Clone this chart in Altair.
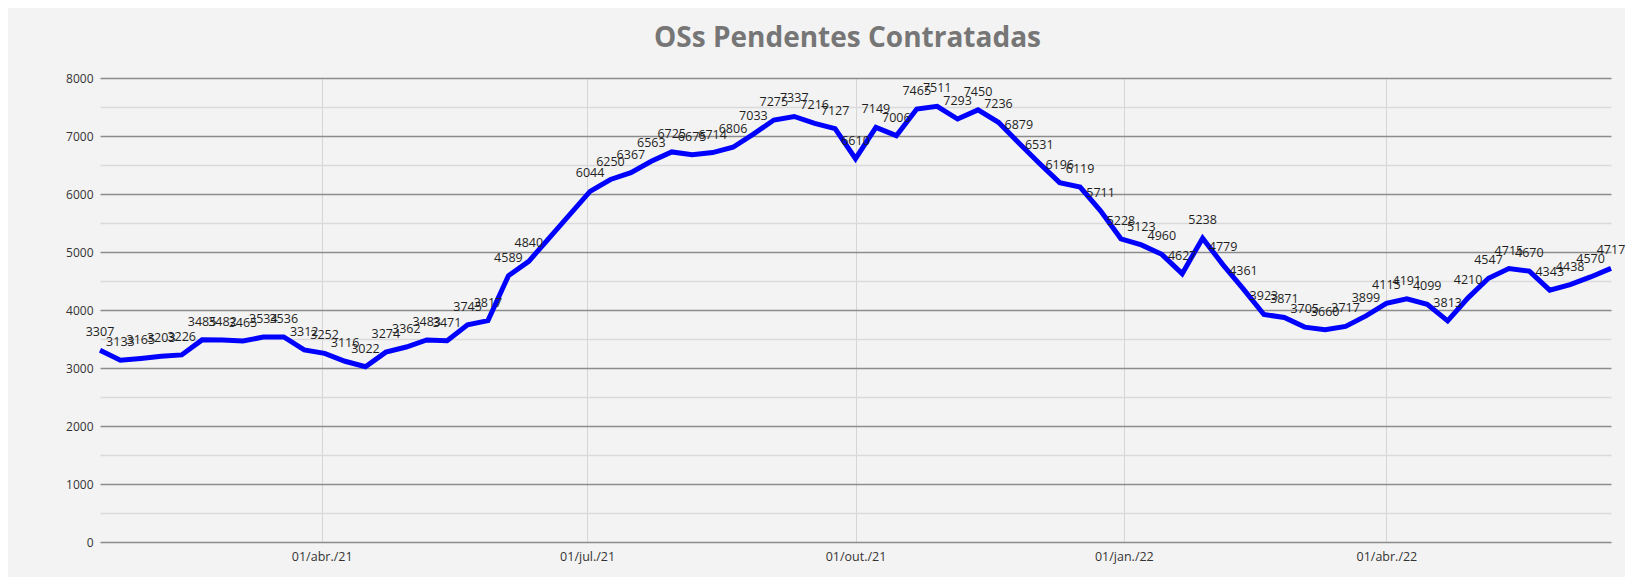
import altair as alt
import pandas as pd

# ---- data (weekly, Fridays) ----
start_date = "2021-01-15"
n_weeks = 75
values = [3307, 3133, 3165, 3203, 3226, 3485, 3482, 3465, 3534, 3536,
          3312, 3252, 3116, 3022, 3274, 3362, 3483, 3471, 3745, 3817,
          4589, 4840, None, None, 6044, 6250, 6367, 6563, 6725, 6675,
          6714, 6806, 7033, 7275, 7337, 7216, 7127, 6610, 7149, 7006,
          7465, 7511, 7293, 7450, 7236, 6879, 6531, 6196, 6119, 5711,
          5228, 5123, 4960, 4627, 5238, 4779, 4361, 3923, 3871, 3705,
          3660, 3717, 3899, 4115, 4191, 4099, 3813, 4210, 4547, 4715,
          4670, 4343, 4438, 4570, 4717]
x_ticks = [(2021, 4, 1), (2021, 7, 1), (2021, 10, 1), (2022, 1, 1), (2022, 4, 1)]
y_ticks = list(range(0, 8001, 500))
title_text = "OSs Pendentes Contratadas"

dates = pd.date_range(start_date, periods=n_weeks, freq="7D")
df = pd.DataFrame({"date": dates.strftime("%Y-%m-%d"), "value": values}).dropna()
df["value"] = df["value"].astype(int)

x_domain = [alt.DateTime(year=dates[0].year, month=dates[0].month, date=dates[0].day, utc=True),
            alt.DateTime(year=dates[-1].year, month=dates[-1].month, date=dates[-1].day, utc=True)]
x_values = [alt.DateTime(year=y, month=m, date=d, utc=True) for (y, m, d) in x_ticks]

month_expr = "['jan','fev','mar','abr','mai','jun','jul','ago','set','out','nov','dez']"

x_enc = alt.X(
    "date:T",
    scale=alt.Scale(type="utc", domain=x_domain, nice=False),
    axis=alt.Axis(
        values=x_values,
        labelExpr="'01/' + " + month_expr + "[utcmonth(datum.value)] + './' + utcFormat(datum.value, '%y')",
        grid=True, gridColor="#d6d6d6", gridWidth=1,
        ticks=False, domain=False, labelPadding=8,
        labelFontSize=12.5, labelFont="Open Sans", labelColor="#333333",
        title=None,
    ),
)
y_enc = alt.Y(
    "value:Q",
    scale=alt.Scale(domain=[0, 8000], nice=False),
    axis=alt.Axis(
        values=y_ticks,
        format="d",
        labelExpr="datum.value % 1000 === 0 ? datum.label : ''",
        gridColor={"condition": {"test": "datum.value % 1000 === 0", "value": "#8c8c8c"}, "value": "#dadada"},
        gridWidth=1.6,
        ticks=False, domain=False, labelPadding=7,
        labelFontSize=12, labelFont="Open Sans", labelColor="#333333",
        title=None,
    ),
)

base = alt.Chart(df).encode(x=x_enc, y=y_enc)
line = base.mark_line(color="#0000FF", strokeWidth=5, strokeJoin="miter", strokeCap="butt")
labels = base.mark_text(dy=-11, baseline="bottom", align="center", fontSize=12.5,
                        font="Open Sans", color="#1f1f1f").encode(text=alt.Text("value:Q", format="d"))

chart = (
    alt.layer(line, labels)
    .properties(
        width=1511, height=464,
        autosize="none",
        padding={"left": 92, "top": 70, "right": 14, "bottom": 35},
        title=alt.TitleParams(title_text, fontSize=28, font="Open Sans", fontWeight="bold",
                              color="#767676", offset=19, anchor="middle", dx=-8),
    )
    .configure(background="#f3f3f3")
    .configure_view(strokeWidth=0)
)

chart.save("out.html", embed_options={"renderer": "svg", "actions": False})
